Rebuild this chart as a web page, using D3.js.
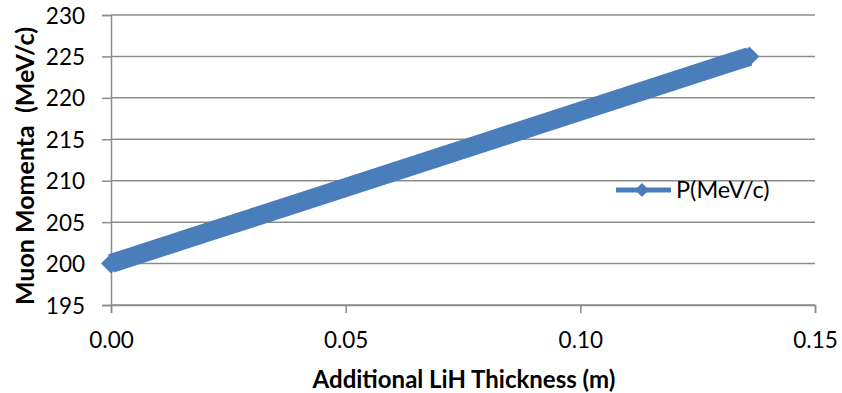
<!DOCTYPE html>
<html>
<head>
<meta charset="utf-8">
<script src="https://cdn.jsdelivr.net/npm/d3@7"></script>
<style>
  body { margin: 0; background: #fff; }
  svg text { font-family: Lato, "Open Sans", sans-serif; fill: #000; }
</style>
</head>
<body>
<div id="chart"></div>
<script>
// thickness of the additional LiH absorber (m)
const thickness = [0, 0.01, 0.02, 0.03, 0.04, 0.05, 0.06, 0.07, 0.08, 0.09, 0.10, 0.11, 0.12, 0.13, 0.136];
// muon momentum (MeV/c)
const momentum = [200.0, 201.84, 203.68, 205.51, 207.35, 209.19, 211.03, 212.87, 214.71, 216.54, 218.38, 220.22, 222.06, 223.90, 225.0];
const seriesName = 'P(MeV/c)';
const xTicks = [0, 0.05, 0.10, 0.15];
const yTicks = [195, 200, 205, 210, 215, 220, 225, 230];

const W = 842, H = 393;
const margin = {top: 15, right: 27, bottom: 88, left: 111};
const width = W - margin.left - margin.right,
      height = H - margin.top - margin.bottom;
const blue = '#4a7ebb';
const gridColor = '#8c8c8c';
const tickFont = '22.5px';

const svg = d3.select('#chart').append('svg')
    .attr('width', W).attr('height', H);
const g = svg.append('g')
    .attr('transform', `translate(${margin.left},${margin.top})`);

const x = d3.scaleLinear().domain([0, 0.15]).range([0, width]);
const y = d3.scaleLinear().domain([195, 230]).range([height, 0]);

// horizontal gridlines
g.append('g')
    .selectAll('line')
    .data(yTicks)
    .join('line')
    .attr('x1', 0).attr('x2', width)
    .attr('y1', d => y(d)).attr('y2', d => y(d))
    .attr('stroke', gridColor).attr('stroke-width', 1.5);

// y axis
const yAxis = g.append('g')
    .call(d3.axisLeft(y).tickValues(yTicks).tickSize(9).tickPadding(17).tickFormat(d3.format('d')));
yAxis.select('.domain').attr('stroke', gridColor).attr('stroke-width', 1.5);
yAxis.selectAll('.tick line').attr('stroke', gridColor).attr('stroke-width', 1.5);
yAxis.selectAll('text').style('font-size', tickFont).attr('dy', '0.36em');

// x axis
const xAxis = g.append('g')
    .attr('transform', `translate(0,${height})`)
    .call(d3.axisBottom(x).tickValues(xTicks).tickSize(8).tickPadding(19).tickFormat(d3.format('.2f')));
xAxis.select('.domain').attr('stroke', gridColor).attr('stroke-width', 1.5);
xAxis.selectAll('.tick line').attr('stroke', gridColor).attr('stroke-width', 1.5);
xAxis.selectAll('text').style('font-size', tickFont);

// axis titles
svg.append('text')
    .attr('x', margin.left + width / 2 + 1)
    .attr('y', 388)
    .attr('text-anchor', 'middle')
    .style('font-size', '24px').style('font-weight', 'bold')
    .text('Additional LiH Thickness (m)');

svg.append('text')
    .attr('transform', `translate(34,${margin.top + height / 2 + 6}) rotate(-90)`)
    .attr('text-anchor', 'middle')
    .style('font-size', '25px').style('font-weight', 'bold')
    .style('white-space', 'pre')
    .text('Muon Momenta  (MeV/c)');

// series
const pts = thickness.map((t, i) => [t, momentum[i]]);
const line = d3.line().x(d => x(d[0])).y(d => y(d[1]));
g.append('path')
    .datum(pts)
    .attr('d', line)
    .attr('fill', 'none')
    .attr('stroke', blue)
    .attr('stroke-width', 19);

const diamond = s => `M0,${-s}L${s},0L0,${s}L${-s},0Z`;
g.append('g')
    .selectAll('path')
    .data(pts)
    .join('path')
    .attr('transform', d => `translate(${x(d[0])},${y(d[1])})`)
    .attr('d', diamond(10))
    .attr('fill', blue);

// legend
const lg = svg.append('g').attr('transform', 'translate(616,190)');
lg.append('line')
    .attr('x1', 0).attr('x2', 55).attr('y1', 0).attr('y2', 0)
    .attr('stroke', blue).attr('stroke-width', 5);
lg.append('path')
    .attr('transform', 'translate(26,0)')
    .attr('d', diamond(7))
    .attr('fill', blue);
lg.append('text')
    .attr('x', 60).attr('y', 0).attr('dy', '0.36em')
    .style('font-size', '23.5px')
    .text(seriesName);
</script>
</body>
</html>
